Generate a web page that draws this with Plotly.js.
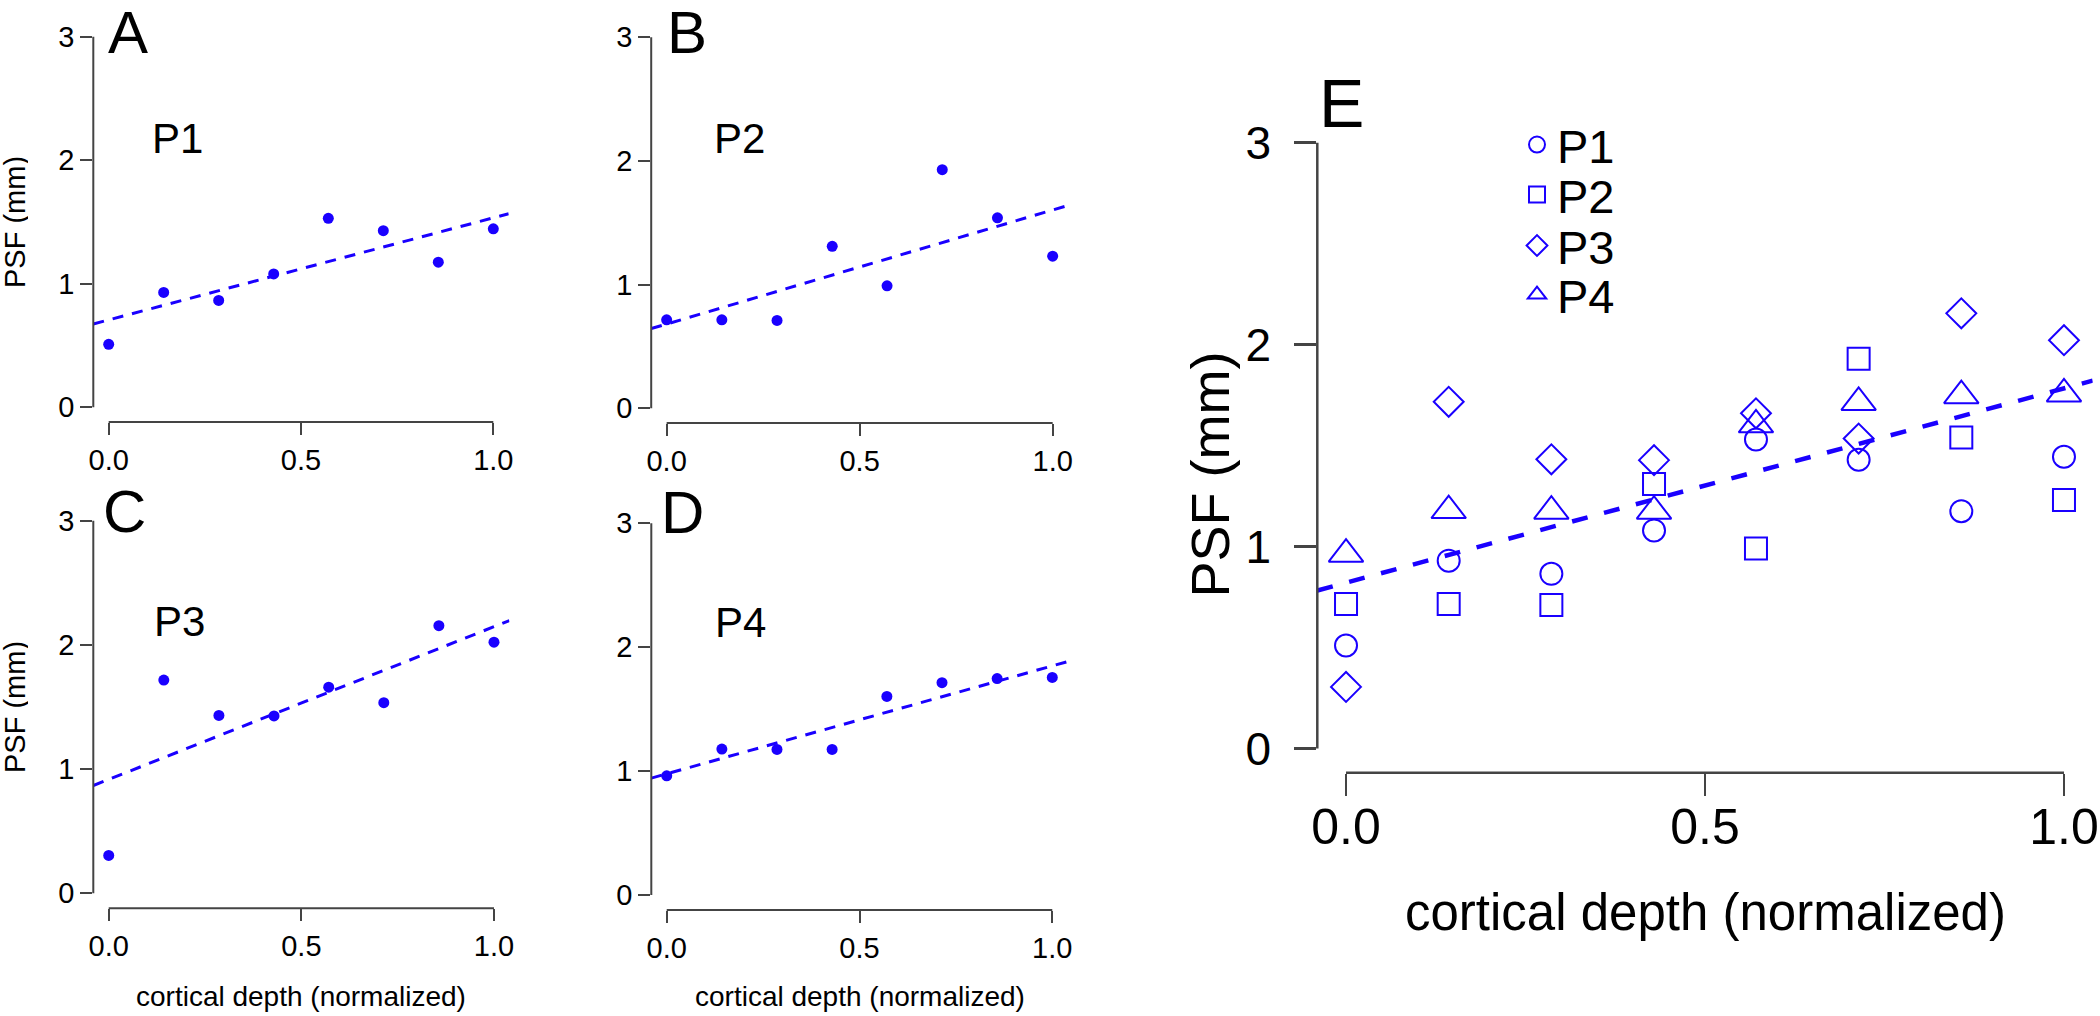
<!DOCTYPE html>
<html>
<head>
<meta charset="utf-8">
<script src="https://cdn.plot.ly/plotly-3.0.1.min.js"></script>
<style>
html, body { margin: 0; padding: 0; background: #ffffff; }
#chart { width: 2100px; height: 1016px; }
</style>
</head>
<body>
<div id="chart"></div>
<script>
// ---------------- data ----------------
const depth = [0.0, 0.143, 0.286, 0.429, 0.571, 0.714, 0.857, 1.0];
const psfP1 = [0.51, 0.93, 0.865, 1.08, 1.53, 1.43, 1.175, 1.445];
const psfP2 = [0.715, 0.715, 0.71, 1.31, 0.99, 1.93, 1.54, 1.23];
const psfP3 = [0.305, 1.717, 1.432, 1.428, 1.66, 1.535, 2.155, 2.022];
const psfP4 = [0.962, 1.178, 1.175, 1.175, 1.603, 1.714, 1.747, 1.756];
const participants = ['P1', 'P2', 'P3', 'P4'];
const panelLetters = ['A', 'B', 'C', 'D', 'E'];
const xTickVals = [0, 0.5, 1];
const xTickText = ['0.0', '0.5', '1.0'];
const yTickVals = [0, 1, 2, 3];
const yTickText = ['0', '1', '2', '3'];
const xTitleText = 'cortical depth (normalized)';
const yTitleText = 'PSF (mm)';

// ---------------- helpers ----------------
const W = 2100, H = 1016;
const px = v => v / W;
const py = v => 1 - v / H;
const blue = '#1a00ff';
const axisColor = '#444444';
const FONT = '"Liberation Sans", Arial, Helvetica, sans-serif';
const xRange = [-0.04, 1.04];
const yRange = [-0.12, 3.12];

function linFit(x, y) {
  const n = x.length;
  let mx = 0, my = 0;
  for (let i = 0; i < n; i++) { mx += x[i]; my += y[i]; }
  mx /= n; my /= n;
  let sxx = 0, sxy = 0;
  for (let i = 0; i < n; i++) { sxx += (x[i] - mx) ** 2; sxy += (x[i] - mx) * (y[i] - my); }
  const b = sxy / sxx;
  return { a: my - b * mx, b: b };
}

const series = [psfP1, psfP2, psfP3, psfP4];
const panels = [
  { k: '',  xd: [93.3, 508.7],  yd: [21.9, 422.1],  ytitle: true,  xtitle: false },
  { k: '2', xd: [651.2, 1068.1], yd: [22.5, 423.1], ytitle: false, xtitle: false },
  { k: '3', xd: [93.3, 509.4],  yd: [505.8, 908.2], ytitle: true,  xtitle: true },
  { k: '4', xd: [651.3, 1067.7], yd: [508.4, 909.9], ytitle: false, xtitle: true }
];
const E = { k: '5', xd: [1317.3, 2092.7], yd: [118.5, 772.7] };

const traces = [];
const layout = {
  width: W, height: H,
  margin: { l: 0, r: 0, t: 0, b: 0 },
  paper_bgcolor: '#ffffff', plot_bgcolor: 'rgba(0,0,0,0)',
  font: { family: FONT, color: '#000000' },
  showlegend: true,
  shapes: [], annotations: []
};

function makeAxes(p, tickSizeX, tickSizeY, tlen, lw, xStand, yStand) {
  const xa = {
    domain: [px(p.xd[0]), px(p.xd[1])], anchor: 'y' + p.k, range: xRange,
    tickmode: 'array', tickvals: xTickVals, ticktext: xTickText,
    ticks: 'outside', ticklen: tlen, tickwidth: lw, tickcolor: axisColor,
    ticklabelstandoff: xStand, ticklabeloverflow: 'allow',
    showline: false, showgrid: false, zeroline: false, fixedrange: true,
    tickfont: { family: FONT, size: tickSizeX, color: '#000000' }
  };
  const ya = {
    domain: [py(p.yd[1]), py(p.yd[0])], anchor: 'x' + p.k, range: yRange,
    tickmode: 'array', tickvals: yTickVals, ticktext: yTickText,
    ticks: 'outside', ticklen: tlen, tickwidth: lw, tickcolor: axisColor,
    ticklabelstandoff: yStand, ticklabeloverflow: 'allow',
    showline: false, showgrid: false, zeroline: false, fixedrange: true,
    tickfont: { family: FONT, size: tickSizeY, color: '#000000' }
  };
  layout['xaxis' + p.k] = xa;
  layout['yaxis' + p.k] = ya;
  layout.shapes.push({
    type: 'line', xref: 'x' + p.k, yref: 'y' + p.k + ' domain',
    x0: xTickVals[0], x1: xTickVals[xTickVals.length - 1], y0: 0, y1: 0,
    line: { color: axisColor, width: lw }
  });
  layout.shapes.push({
    type: 'line', xref: 'x' + p.k + ' domain', yref: 'y' + p.k,
    x0: 0, x1: 0, y0: yTickVals[0], y1: yTickVals[yTickVals.length - 1],
    line: { color: axisColor, width: lw }
  });
}

// ---------------- panels A-D ----------------
const letterPos = [[107, 32], [666, 32], [102, 511], [660, 512]];
const labelPos = [[177.5, 138.5], [739.5, 138.5], [179, 621.5], [740, 622.5]];
panels.forEach((p, i) => {
  makeAxes(p, 29, 29, 12, 2, 0, 0);
  const y = series[i];
  traces.push({
    type: 'scatter', mode: 'markers', x: depth, y: y,
    xaxis: 'x' + p.k, yaxis: 'y' + p.k, showlegend: false,
    marker: { symbol: 'circle', size: 11, color: blue }, cliponaxis: false
  });
  const f = linFit(depth, y);
  traces.push({
    type: 'scatter', mode: 'lines', x: xRange, y: xRange.map(v => f.a + f.b * v),
    xaxis: 'x' + p.k, yaxis: 'y' + p.k, showlegend: false,
    line: { color: blue, width: 3, dash: '11px,9px' }
  });
  layout.annotations.push({
    xref: 'paper', yref: 'paper', x: px(letterPos[i][0]), y: py(letterPos[i][1]),
    xanchor: 'left', yanchor: 'middle', showarrow: false, height: 44, borderpad: 0,
    text: panelLetters[i], font: { family: FONT, size: 60, color: '#000' }
  });
  layout.annotations.push({
    xref: 'paper', yref: 'paper', x: px(labelPos[i][0]), y: py(labelPos[i][1]),
    xanchor: 'center', yanchor: 'middle', showarrow: false,
    text: participants[i], font: { family: FONT, size: 42, color: '#000' }
  });
  if (p.ytitle) {
    layout.annotations.push({
      xref: 'paper', yref: 'paper', x: px(15), y: py((p.yd[0] + p.yd[1]) / 2),
      xanchor: 'center', yanchor: 'middle', showarrow: false, textangle: -90,
      height: 26, borderpad: 0,
      text: yTitleText, font: { family: FONT, size: 29, color: '#000' }
    });
  }
  if (p.xtitle) {
    layout.annotations.push({
      xref: 'paper', yref: 'paper', x: px((p.xd[0] + p.xd[1]) / 2), y: py(996),
      xanchor: 'center', yanchor: 'middle', showarrow: false,
      text: xTitleText, font: { family: FONT, size: 28, color: '#000' }
    });
  }
});

// ---------------- panel E ----------------
makeAxes(E, 50, 46, 22, 2.5, -12, 14);
const eSymbols = ['circle-open', 'square-open', 'diamond-open', 'triangle-up-open'];
const eSizes = [22, 22, 23, 30];
const legendRowsY = [145, 195, 246, 295];
series.forEach((y, i) => {
  const lk = i === 0 ? 'legend' : 'legend' + (i + 1);
  traces.push({
    type: 'scatter', mode: 'markers', x: depth, y: y, name: participants[i],
    xaxis: 'x' + E.k, yaxis: 'y' + E.k, showlegend: true, legend: lk,
    marker: { symbol: eSymbols[i], size: eSizes[i], color: blue, line: { color: blue, width: 2 } },
    cliponaxis: false
  });
  layout[lk] = {
    x: px(1517), y: py(legendRowsY[i]), xanchor: 'left', yanchor: 'middle',
    bgcolor: 'rgba(0,0,0,0)', borderwidth: 0,
    font: { family: FONT, size: 47, color: '#000' },
    itemsizing: 'trace'
  };
});
const allX = [].concat(depth, depth, depth, depth);
const allY = [].concat(psfP1, psfP2, psfP3, psfP4);
const fE = linFit(allX, allY);
traces.push({
  type: 'scatter', mode: 'lines', x: xRange, y: xRange.map(v => fE.a + fE.b * v),
  xaxis: 'x' + E.k, yaxis: 'y' + E.k, showlegend: false,
  line: { color: blue, width: 4.5, dash: '16px,17px' }
});
layout.annotations.push({
  xref: 'paper', yref: 'paper', x: px(1318), y: py(103),
  xanchor: 'left', yanchor: 'middle', showarrow: false, height: 52, borderpad: 0,
  text: panelLetters[4], font: { family: FONT, size: 68, color: '#000' }
});
layout.annotations.push({
  xref: 'paper', yref: 'paper', x: px(1210), y: py(474.5),
  xanchor: 'center', yanchor: 'middle', showarrow: false, textangle: -90,
  text: yTitleText, font: { family: FONT, size: 54, color: '#000' }
});
layout.annotations.push({
  xref: 'paper', yref: 'paper', x: px((E.xd[0] + E.xd[1]) / 2), y: py(912),
  xanchor: 'center', yanchor: 'middle', showarrow: false,
  text: xTitleText, font: { family: FONT, size: 51, color: '#000' }
});

Plotly.newPlot('chart', traces, layout, { displayModeBar: false, staticPlot: true });
</script>
</body>
</html>
